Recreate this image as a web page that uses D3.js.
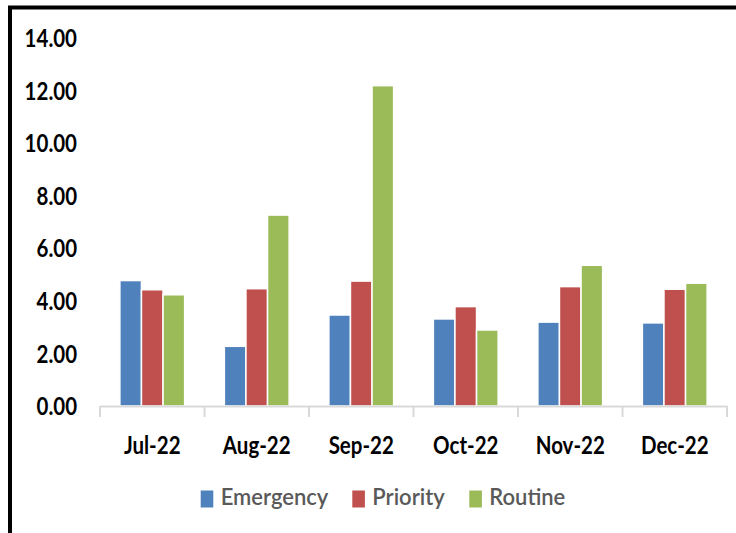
<!DOCTYPE html>
<html>
<head>
<meta charset="utf-8">
<script src="https://cdn.jsdelivr.net/npm/d3@7"></script>
<style>
  body { margin: 0; background: #fff; }
  svg { display: block; }
</style>
</head>
<body>
<div id="chart"></div>
<script>
// chart data
var months = ["Jul-22", "Aug-22", "Sep-22", "Oct-22", "Nov-22", "Dec-22"];
var series = ["Emergency", "Priority", "Routine"];
var emergency = [4.77, 2.27, 3.46, 3.31, 3.19, 3.16];
var priority = [4.42, 4.46, 4.75, 3.78, 4.54, 4.44];
var routine = [4.23, 7.26, 12.18, 2.89, 5.35, 4.67];
var yTicks = [0, 2, 4, 6, 8, 10, 12, 14];
var colors = ["#4F81BD", "#C0504D", "#9BBB59"];

var values = [emergency, priority, routine];

var width = 736;
var height = 533;

var svg = d3.select("#chart")
    .append("svg")
    .attr("width", width)
    .attr("height", height);

// frame (only top and left edges show in the picture)
svg.append("rect")
    .attr("x", 10)
    .attr("y", 7.5)
    .attr("width", 900)
    .attr("height", 700)
    .attr("fill", "none")
    .attr("stroke", "#000")
    .attr("stroke-width", 4);

// scales
var x0 = d3.scaleBand()
    .domain(months)
    .range([100, 727])
    .padding(0);

var x1 = d3.scaleBand()
    .domain(series)
    .range([0, x0.bandwidth()])
    .paddingInner(0)
    .paddingOuter(0.92);

var y = d3.scaleLinear()
    .domain([0, 14])
    .range([406, 37.8]);

// y tick labels (no axis line), stretched a bit vertically like the source
var yAxis = svg.append("g")
    .attr("transform", "translate(100,0)")
    .call(d3.axisLeft(y).tickValues(yTicks).tickFormat(d3.format(".2f")).tickSize(0).tickPadding(23));
yAxis.select(".domain").remove();
yAxis.selectAll("text")
    .attr("font-family", "Lato, sans-serif")
    .attr("font-weight", "bold")
    .attr("font-size", 20.5)
    .attr("fill", "#000")
    .attr("dy", null)
    .attr("dominant-baseline", "central")
    .attr("y", 0);
yAxis.selectAll(".tick")
    .attr("transform", function (d) { return "translate(0," + y(d) + ") scale(1,1.18)"; });

// bars
var groups = svg.selectAll(".month")
    .data(months)
    .enter()
    .append("g")
    .attr("class", "month")
    .attr("transform", function (d) { return "translate(" + x0(d) + ",0)"; });

groups.selectAll("rect")
    .data(function (d, i) {
        return series.map(function (s, j) { return { key: s, value: values[j][i], color: colors[j] }; });
    })
    .enter()
    .append("rect")
    .attr("x", function (d) { return x1(d.key); })
    .attr("y", function (d) { return y(d.value); })
    .attr("width", x1.bandwidth())
    .attr("height", function (d) { return y(0) - y(d.value); })
    .attr("fill", function (d) { return d.color; })
    .attr("stroke", "#fff")
    .attr("stroke-width", 1.5);

// x axis
var xAxis = svg.append("g")
    .attr("transform", "translate(0,406)")
    .call(d3.axisBottom(x0).tickSize(0).tickPadding(0));
xAxis.select(".domain")
    .attr("stroke", "#D9D9D9")
    .attr("stroke-width", 2);
xAxis.selectAll("text")
    .attr("font-family", "Lato, sans-serif")
    .attr("font-weight", "bold")
    .attr("font-size", 20.5)
    .attr("fill", "#000")
    .attr("dy", null)
    .attr("dominant-baseline", "central")
    .attr("y", 0);
xAxis.selectAll(".tick")
    .attr("transform", function (d) { return "translate(" + (x0(d) + x0.bandwidth() / 2) + ",39) scale(1,1.18)"; });

// boundary ticks between categories
var edges = months.map(function (m) { return x0(m); }).concat([x0.range()[1]]);
svg.append("g")
    .selectAll("line")
    .data(edges)
    .enter()
    .append("line")
    .attr("x1", function (d) { return d; })
    .attr("x2", function (d) { return d; })
    .attr("y1", 406)
    .attr("y2", 417)
    .attr("stroke", "#D9D9D9")
    .attr("stroke-width", 2);

// legend
var legendX = [200.7, 352.3, 469.3];
var legend = svg.selectAll(".legend")
    .data(series)
    .enter()
    .append("g")
    .attr("class", "legend")
    .attr("transform", function (d, i) { return "translate(" + legendX[i] + ",499)"; });

legend.append("rect")
    .attr("x", 0)
    .attr("y", -8.5)
    .attr("width", 12.6)
    .attr("height", 17)
    .attr("fill", function (d, i) { return colors[i]; });

legend.append("text")
    .attr("x", 20)
    .attr("y", 0)
    .attr("dominant-baseline", "central")
    .attr("font-family", "Lato, sans-serif")
    .attr("font-size", 22)
    .attr("font-weight", 600)
    .attr("fill", "#595959")
    .attr("transform", "scale(1,1.08)")
    .attr("y", -3)
    .text(function (d) { return d; });
</script>
</body>
</html>
